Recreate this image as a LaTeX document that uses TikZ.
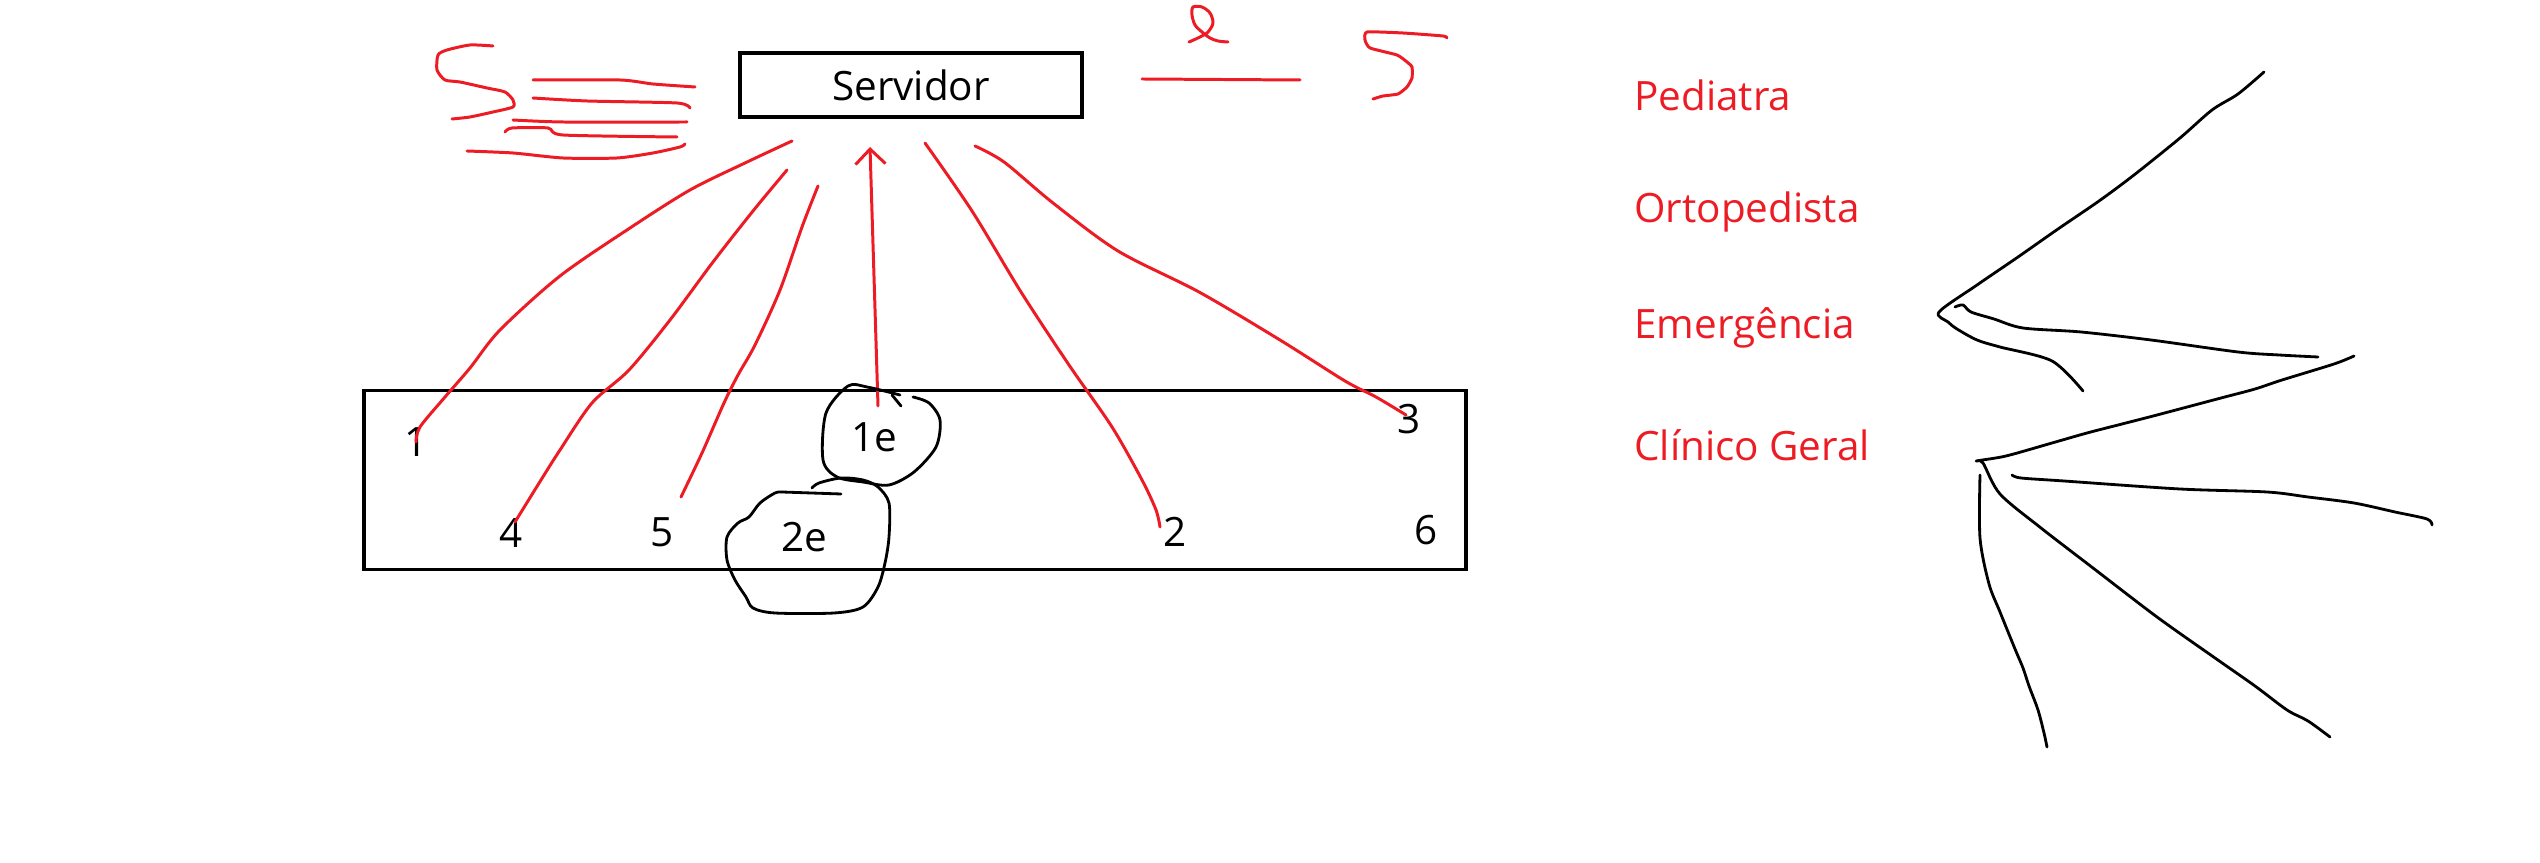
\documentclass[tikz,border=0pt]{standalone}
\usepackage{fontspec}
\setmainfont{Open Sans}
\usetikzlibrary{arrows.meta}
\definecolor{paintred}{RGB}{237,28,36}
\begin{document}
\begin{tikzpicture}[x=0.1mm, y=-0.1mm, every node/.style={font=\fontsize{11.5}{14}\selectfont},
      box/.style={draw, line width=1pt, inner sep=0pt},
      rabisco/.style={draw=paintred, line width=0.85pt, line join=round, line cap=round},
      traco/.style={draw=black, line width=0.8pt, line join=round, line cap=round},
      rotulo/.style={text=paintred, anchor=west}]
    \useasboundingbox (0,0) rectangle (2540,863);
    % servidor e painel
    \node[box, minimum width=3.42cm, minimum height=0.64cm] (servidor) at (911,85) {Servidor};
    \node[box, minimum width=11.02cm, minimum height=1.79cm] (painel) at (915,480) {};
    \node (n1) at (416,442) {1};
    \node (n3) at (1409,419) {3};
    \node (n4) at (511,533) {4};
    \node (n5) at (662,532) {5};
    \node (n2) at (1175,532) {2};
    \node (n6) at (1426,530) {6};
    \node (e1) at (874,437) {1e};
    \node (e2) at (804,537) {2e};
    % rabiscos em volta do servidor
    \draw[rabisco] plot[smooth, tension=0.4] coordinates {(493,46) (470,45) (447,50) (438,55) (437,70) (445,80) (460,82) (487,88) (505,92) (513,100) (513,107) (493,112) (470,117) (452,119)};
    \draw[rabisco] plot[smooth, tension=0.4] coordinates {(533,80) (620,80) (653,84) (695,87)};
    \draw[rabisco] plot[smooth, tension=0.4] coordinates {(533,98) (587,101) (677,103) (690,108)};
    \draw[rabisco] plot[smooth, tension=0.4] coordinates {(513,120) (563,122) (687,122)};
    \draw[rabisco] plot[smooth, tension=0.4] coordinates {(505,132) (512,128) (548,128) (563,135) (677,137)};
    \draw[rabisco] plot[smooth, tension=0.4] coordinates {(467,151) (513,153) (563,158) (617,158) (653,153) (680,147) (685,144)};
    \draw[rabisco] (1142,79) -- (1300,80);
    \draw[rabisco] plot[smooth, tension=0.5] coordinates {(1189,42) (1200,37) (1208,32) (1213,23) (1210,13) (1202,7) (1193,7) (1192,15) (1195,25) (1202,32) (1210,38) (1218,41) (1228,42)};
    \draw[rabisco] plot[smooth, tension=0.3] coordinates {(1447,38) (1443,36) (1403,33) (1367,32) (1365,40) (1370,48) (1397,55) (1407,62) (1412,67) (1412,78) (1407,87) (1398,94) (1383,96) (1373,99)};
    % linhas do servidor ate os pontos
    \draw[rabisco] plot[smooth] coordinates {(792,141) (745,163) (690,190) (630,228) (560,276) (500,330) (470,368) (445,397) (420,427) (416,442)};
    \draw[rabisco] plot[smooth] coordinates {(787,170) (753,211) (713,262) (670,320) (629,370) (592,403) (560,450) (541,480) (515,522)};
    \draw[rabisco] plot[smooth] coordinates {(818,186) (802,227) (780,290) (755,345) (738,375) (724,403) (702,453) (681,497)};
    \draw[rabisco, -{Straight Barb[length=1.5mm, width=3mm]}] (878,406) -- (870,147);
    \draw[rabisco] plot[smooth] coordinates {(925,143) (972,211) (1021,292) (1069,365) (1112,427) (1142,480) (1156,510) (1160,527)};
    \draw[rabisco] plot[smooth] coordinates {(975,146) (1004,162) (1053,203) (1118,251) (1199,292) (1280,340) (1345,381) (1376,397) (1406,415)};
    % circulos 1e e 2e
    \draw[traco] plot[smooth] coordinates {(900,395) (867,387) (848,386) (826,413) (823,460) (837,477) (863,482) (889,485) (914,472) (936,447) (940,420) (929,403) (913,397)};
    \draw[traco] (892,395) -- (901,406);
    \draw[traco] plot[smooth] coordinates {(812,488) (819,483) (841,478) (863,480) (878,487) (889,503) (889,537) (885,563) (878,587) (863,607) (834,613) (775,613) (753,608) (746,597) (735,580) (727,560) (727,537) (738,523) (749,517) (760,503) (775,493) (782,492)};
    \draw[traco] (782,492) -- (841,494);
    % especialidades
    \node[rotulo] (pediatra) at (1622,95) {Pediatra};
    \node[rotulo] (ortopedista) at (1622,212) {Ortopedista};
    \node[rotulo] (emergencia) at (1622,328) {Emergência};
    \node[rotulo] (clinico) at (1622,445) {Clínico Geral};
    \draw[traco] plot[smooth] coordinates {(2264,72) (2238,94) (2212,110) (2180,138) (2134,175) (2099,201) (2058,229) (2018,257) (1977,285) (1939,312) (1948,322) (1957,329) (1977,340) (2000,347) (2052,361) (2083,391)};
    \draw[traco] plot[smooth] coordinates {(1955,307) (1963,305) (1971,312) (1994,319) (2023,328) (2081,332) (2151,340) (2238,352) (2279,355) (2318,357)};
    \draw[traco] plot[smooth] coordinates {(2354,356) (2334,364) (2282,380) (2255,389) (2221,398) (2157,415) (2122,424) (2087,433) (2052,443) (2006,456) (1977,461) (1983,463) (2000,494) (2041,528) (2093,568) (2157,617) (2215,658) (2255,686) (2287,710) (2308,721) (2330,737)};
    \draw[traco] plot[smooth] coordinates {(2012,475) (2021,478) (2064,481) (2180,489) (2267,492) (2308,497) (2354,503) (2395,512) (2427,519) (2432,525)};
    \draw[traco] plot[smooth] coordinates {(1980,475) (1980,538) (1989,584) (2000,612) (2015,649) (2023,668) (2029,686) (2038,710) (2044,733) (2047,747)};
  \end{tikzpicture}
\end{document}
